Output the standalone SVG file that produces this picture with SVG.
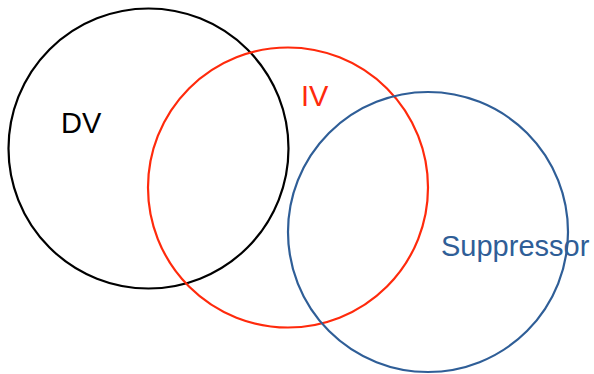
<svg xmlns="http://www.w3.org/2000/svg" width="594" height="374" viewBox="0 0 594 374">
  <style>
    .ring { fill: none; stroke-width: 2.2; }
    .label { font-family: "Liberation Sans", Arial, sans-serif; font-size: 29px; }
  </style>
  <rect width="594" height="374" fill="#ffffff"/>
  <g id="dv">
    <circle class="ring" cx="148.5" cy="148.5" r="140" stroke="#000000"/>
    <text class="label" x="61" y="133" fill="#000000">DV</text>
  </g>
  <g id="iv">
    <circle class="ring" cx="288" cy="187.5" r="140" stroke="#FF2A0C"/>
    <text class="label" x="301" y="106" fill="#FF2A0C">IV</text>
  </g>
  <g id="suppressor">
    <circle class="ring" cx="428" cy="232" r="140" stroke="#2F5E97"/>
    <text class="label" x="441" y="256" fill="#2F5E97">Suppressor</text>
  </g>
</svg>
